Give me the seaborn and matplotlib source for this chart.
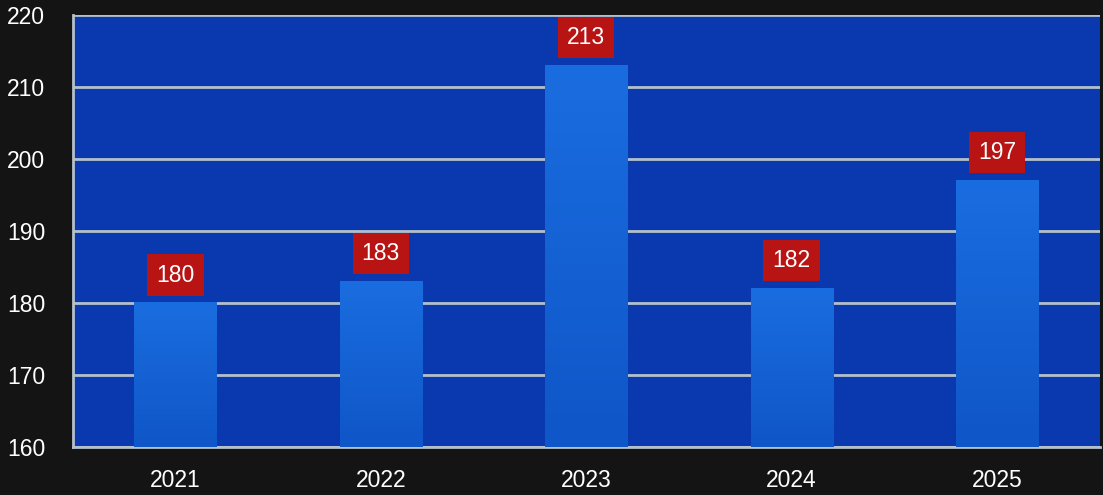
import numpy as np
import pandas as pd
import matplotlib.pyplot as plt
import seaborn as sns

# Data
years = ['2021', '2022', '2023', '2024', '2025']
values = [180, 183, 213, 182, 197]
y_ticks = [160, 170, 180, 190, 200, 210, 220]

df = pd.DataFrame({'year': years, 'value': values})

sns.set_style('white')
plt.rcParams['font.family'] = ['Liberation Sans', 'DejaVu Sans']

fig = plt.figure(figsize=(11.03, 4.95), dpi=100, facecolor='#141414')
ax = fig.add_axes([0.066, 0.097, 0.931, 0.873])
ax.set_facecolor('#0a38ae')

sns.barplot(data=df, x='year', y='value', ax=ax, color='#1663d6',
            width=0.4, saturation=1, edgecolor='none', zorder=3)

ymin, ymax = y_ticks[0], y_ticks[-1]

# gradient fill on each bar (only the visible part)
grad = np.linspace(0, 1, 256).reshape(-1, 1)
cmap = sns.blend_palette(['#0f56c8', '#1a6de0'], as_cmap=True)
for p in ax.patches:
    x0 = p.get_x()
    w, top = p.get_width(), p.get_y() + p.get_height()
    ax.imshow(grad, extent=[x0, x0 + w, ymin, top], origin='lower',
              cmap=cmap, aspect='auto', zorder=3)

ax.set_ylim(ymin, ymax)
ax.set_xlim(-0.5, len(years) - 0.5)

# value labels
for i, v in enumerate(values):
    ax.annotate(str(v), xy=(i, v), xytext=(0, 20), textcoords='offset points',
                ha='center', va='center', color='white', fontsize=16.5,
                bbox=dict(boxstyle='square,pad=0.4', facecolor='#b81414',
                          edgecolor='none'), zorder=5)

# grid and axes styling
ax.set_yticks(y_ticks)
ax.yaxis.grid(True, color='#b4c0cc', linewidth=2, zorder=1)
ax.set_axisbelow(True)
ax.set_xlabel('')
ax.set_ylabel('')
ax.set_xticks(range(len(years)))
ax.set_xticklabels(years)
ax.set_xticks(np.arange(-0.5, len(years)), minor=True)
ax.tick_params(axis='x', which='major', length=0, colors='white',
               labelsize=16.5, pad=16)
ax.tick_params(axis='x', which='minor', length=6, color='#b4c0cc', width=1.5)
ax.tick_params(axis='y', length=7, color='#b4c0cc', labelcolor='white',
               labelsize=16.5, pad=13)

for side in ['top', 'right']:
    ax.spines[side].set_visible(False)
for side in ['left', 'bottom']:
    ax.spines[side].set_color('#b4c0cc')
    ax.spines[side].set_linewidth(2)

plt.savefig('out.png', dpi=100, facecolor=fig.get_facecolor())
